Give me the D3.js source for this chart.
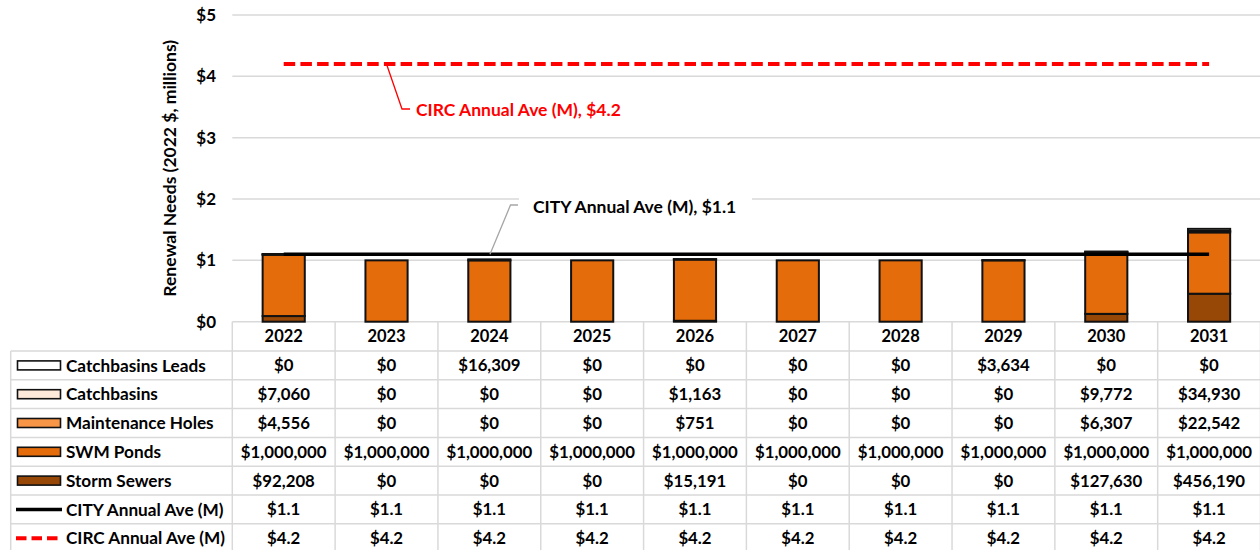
<!DOCTYPE html>
<html>
<head>
<meta charset="utf-8">
<script src="https://cdn.jsdelivr.net/npm/d3@7"></script>
<style>
  html, body { margin: 0; padding: 0; background: #fff; }
  svg { display: block; }
  text { font-family: "Lato", "Open Sans", sans-serif; font-weight: bold; }
</style>
</head>
<body>
<svg id="chart" width="1260" height="550"></svg>
<script>
// Renewal needs per year, in 2022 dollars
const years = ["2022", "2023", "2024", "2025", "2026", "2027", "2028", "2029", "2030", "2031"];
const catchbasinsLeads = [0, 0, 16309, 0, 0, 0, 0, 3634, 0, 0];
const catchbasins = [7060, 0, 0, 0, 1163, 0, 0, 0, 9772, 34930];
const maintenanceHoles = [4556, 0, 0, 0, 751, 0, 0, 0, 6307, 22542];
const swmPonds = [1000000, 1000000, 1000000, 1000000, 1000000, 1000000, 1000000, 1000000, 1000000, 1000000];
const stormSewers = [92208, 0, 0, 0, 15191, 0, 0, 0, 127630, 456190];
// Annual averages, millions of dollars
const cityAnnualAve = [1.1, 1.1, 1.1, 1.1, 1.1, 1.1, 1.1, 1.1, 1.1, 1.1];
const circAnnualAve = [4.2, 4.2, 4.2, 4.2, 4.2, 4.2, 4.2, 4.2, 4.2, 4.2];
const yTicks = [0, 1, 2, 3, 4, 5];

// Stack order bottom → top
const series = [
  { key: "Storm Sewers", values: stormSewers, color: "#974706" },
  { key: "SWM Ponds", values: swmPonds, color: "#E46C0A" },
  { key: "Maintenance Holes", values: maintenanceHoles, color: "#F79646" },
  { key: "Catchbasins", values: catchbasins, color: "#FDE9D9" },
  { key: "Catchbasins Leads", values: catchbasinsLeads, color: "#FFFFFF" }
];

const svg = d3.select("#chart");
const plotLeft = 232.3, plotRight = 1260.5, plotTop = 15, plotBottom = 321.7;
const gridColor = "#d9d9d9";

const x = d3.scaleBand().domain(years).range([plotLeft, plotRight]).padding(0);
const y = d3.scaleLinear().domain([0, 5]).range([plotBottom, plotTop]);
const barW = x.bandwidth() * 0.41;
const fmt = v => "$" + d3.format(",")(v);

// Gridlines
svg.append("g").selectAll("line").data(yTicks).join("line")
  .attr("x1", plotLeft).attr("x2", plotRight)
  .attr("y1", d => y(d)).attr("y2", d => y(d))
  .attr("stroke", gridColor).attr("stroke-width", 1.5);

// Y axis labels
const yAxis = d3.axisLeft(y).tickValues(yTicks).tickFormat(d => "$" + d).tickSize(0).tickPadding(0);
const yG = svg.append("g").attr("transform", `translate(${216},0)`).call(yAxis);
yG.select(".domain").remove();
yG.selectAll("text").attr("font-size", 17).attr("fill", "#000")
  .style("font-family", "Lato, sans-serif").style("font-weight", "bold");

svg.append("text")
  .attr("transform", `translate(176,${(plotTop + plotBottom) / 2}) rotate(-90)`)
  .attr("text-anchor", "middle").attr("font-size", 17.5).attr("fill", "#000")
  .text("Renewal Needs (2022 $, millions)");

// Stacked bars
const table = years.map((yr, i) => {
  const row = { year: yr };
  series.forEach(s => row[s.key] = s.values[i] / 1e6);
  return row;
});
const stack = d3.stack().keys(series.map(s => s.key))(table);
svg.append("g").selectAll("g").data(stack).join("g")
  .attr("fill", (d, i) => series[i].color)
  .selectAll("rect").data(d => d.filter(p => p[1] - p[0] > 0)).join("rect")
  .attr("x", d => x(d.data.year) + (x.bandwidth() - barW) / 2)
  .attr("width", barW)
  .attr("y", d => y(d[1]))
  .attr("height", d => y(d[0]) - y(d[1]))
  .attr("stroke", "#111").attr("stroke-width", 2);

// Average lines
const cx = d => x(d) + x.bandwidth() / 2;
const lineGen = vals => d3.line().x((d, i) => cx(years[i])).y(d => y(d))(vals);
svg.append("path").attr("d", lineGen(cityAnnualAve))
  .attr("fill", "none").attr("stroke", "#000").attr("stroke-width", 3.5);
svg.append("path").attr("d", lineGen(circAnnualAve))
  .attr("fill", "none").attr("stroke", "#FF0000").attr("stroke-width", 4)
  .attr("stroke-dasharray", "11.5,5.2");

// Line annotations
const circY = y(4.2);
svg.append("polyline")
  .attr("points", `386.5,${circY} 402,109 410,109`)
  .attr("fill", "none").attr("stroke", "#FF0000").attr("stroke-width", 1.3);
svg.append("text").attr("x", 416).attr("y", 110).attr("dy", "0.35em")
  .attr("font-size", 17.5).attr("fill", "#FF0000").text("CIRC Annual Ave (M), $4.2");

const cityY = y(1.1);
svg.append("rect").attr("x", 519).attr("y", 190).attr("width", 233).attr("height", 32).attr("fill", "#fff");
svg.append("polyline")
  .attr("points", `490,${cityY} 510.5,205 518,205`)
  .attr("fill", "none").attr("stroke", "#a6a6a6").attr("stroke-width", 1.3);
svg.append("text").attr("x", 533).attr("y", 206.5).attr("dy", "0.35em")
  .attr("font-size", 17.5).attr("fill", "#000").text("CITY Annual Ave (M), $1.1");

// Data table
const tableLeft = 10.7, headerTop = plotBottom, rowTop = 351, rowH = 28.8;
const rows = [
  { label: "Catchbasins Leads", values: catchbasinsLeads.map(fmt), swatch: "#FFFFFF" },
  { label: "Catchbasins", values: catchbasins.map(fmt), swatch: "#FDE9D9" },
  { label: "Maintenance Holes", values: maintenanceHoles.map(fmt), swatch: "#F79646" },
  { label: "SWM Ponds", values: swmPonds.map(fmt), swatch: "#E46C0A" },
  { label: "Storm Sewers", values: stormSewers.map(fmt), swatch: "#974706" },
  { label: "CITY Annual Ave (M)", values: cityAnnualAve.map(v => "$" + v.toFixed(1)), line: "solid" },
  { label: "CIRC Annual Ave (M)", values: circAnnualAve.map(v => "$" + v.toFixed(1)), line: "dash" }
];
const tableBottom = rowTop + rowH * rows.length;
const tg = svg.append("g");

// grid: horizontal
tg.selectAll("line.h").data(d3.range(rows.length + 1)).join("line")
  .attr("x1", tableLeft).attr("x2", plotRight)
  .attr("y1", i => rowTop + i * rowH).attr("y2", i => rowTop + i * rowH)
  .attr("stroke", gridColor).attr("stroke-width", 1.5);
// grid: vertical between year columns
tg.selectAll("line.v").data(years.concat(["end"])).join("line")
  .attr("x1", (d, i) => plotLeft + i * x.bandwidth()).attr("x2", (d, i) => plotLeft + i * x.bandwidth())
  .attr("y1", headerTop).attr("y2", tableBottom)
  .attr("stroke", gridColor).attr("stroke-width", 1.5);
tg.append("line").attr("x1", tableLeft).attr("x2", tableLeft)
  .attr("y1", rowTop).attr("y2", tableBottom)
  .attr("stroke", gridColor).attr("stroke-width", 1.5);

// header years
tg.selectAll("text.yr").data(years).join("text")
  .attr("x", d => cx(d)).attr("y", (headerTop + rowTop) / 2).attr("dy", "0.36em")
  .attr("text-anchor", "middle").attr("font-size", 16.5).attr("fill", "#000").text(d => d);

rows.forEach((r, ri) => {
  const cy = rowTop + ri * rowH + rowH / 2;
  if (r.swatch) {
    tg.append("rect").attr("x", 17.5).attr("y", cy - 4.5).attr("width", 43).attr("height", 9)
      .attr("fill", r.swatch).attr("stroke", "#111").attr("stroke-width", 1.6);
  } else if (r.line === "solid") {
    tg.append("line").attr("x1", 16).attr("x2", 62).attr("y1", cy).attr("y2", cy)
      .attr("stroke", "#000").attr("stroke-width", 3.5);
  } else {
    tg.append("line").attr("x1", 16).attr("x2", 62).attr("y1", cy).attr("y2", cy)
      .attr("stroke", "#FF0000").attr("stroke-width", 4).attr("stroke-dasharray", "10.5,5");
  }
  tg.append("text").attr("x", 66).attr("y", cy).attr("dy", "0.36em")
    .attr("font-size", 17.2).attr("fill", "#000").text(r.label);
  tg.selectAll(null).data(r.values).join("text")
    .attr("x", (d, i) => cx(years[i])).attr("y", cy).attr("dy", "0.36em")
    .attr("text-anchor", "middle").attr("font-size", 16.8).attr("fill", "#000").text(d => d);
});
</script>
</body>
</html>
